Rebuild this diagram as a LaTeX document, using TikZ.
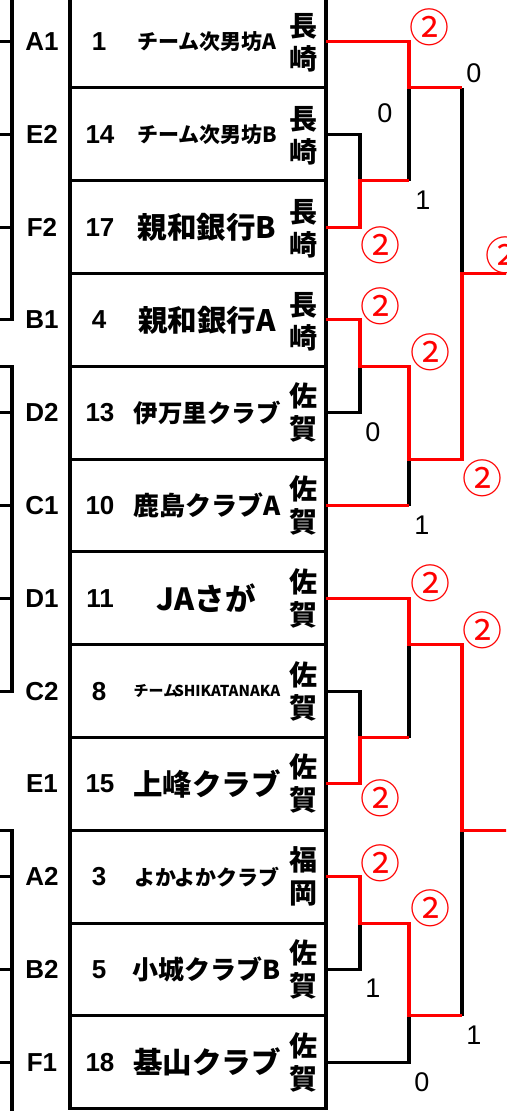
\documentclass[tikz,border=0pt]{standalone}
\usepackage{fontspec}
\setmainfont{Liberation Sans}
\newfontfamily\jp{Noto Sans CJK JP}
\tikzset{
  rowbox/.style={draw, line width=3.1pt, minimum width=256pt, minimum height=92.8pt, inner sep=0pt, outer sep=0pt},
  lab/.style={inner sep=0pt, font=\fontsize{26}{26}\selectfont\bfseries},
  num/.style={inner sep=0pt, font=\fontsize{26}{26}\selectfont\bfseries},
  team/.style={inner sep=0pt, font=\jp\bfseries\fontsize{29.5}{29.5}\selectfont},
  pref/.style={inner sep=0pt, align=center, font=\jp\bfseries\fontsize{28}{33}\selectfont},
  score/.style={inner sep=0pt, font=\fontsize{27}{27}\selectfont},
  win/.style={inner sep=0pt, text=red, font=\jp\fontsize{40}{40}\selectfont},
  lose/.style={draw=black, line width=3.1pt},
  adv/.style={draw=red, line width=3.1pt},
  edge/.style={draw=black, line width=3.1pt}
}
\begin{document}
\begin{tikzpicture}[x=1pt,y=-1pt]
\useasboundingbox (0,0) rectangle (506,1111);
\clip (0,0) rectangle (506,1111);
\fill[white] (0,0) rectangle (506,1111);

% rows
\node[rowbox] (row0) at (198,41.5) {};
\node[rowbox] (row1) at (198,134.3) {};
\node[rowbox] (row2) at (198,227.1) {};
\node[rowbox] (row3) at (198,319.9) {};
\node[rowbox] (row4) at (198,412.7) {};
\node[rowbox] (row5) at (198,505.5) {};
\node[rowbox] (row6) at (198,598.3) {};
\node[rowbox] (row7) at (198,691.1) {};
\node[rowbox] (row8) at (198,783.9) {};
\node[rowbox] (row9) at (198,876.7) {};
\node[rowbox] (row10) at (198,969.5) {};
\node[rowbox] (row11) at (198,1062.3) {};

% group labels
\node[lab] (l0) at (42,41.5) {A1};
\node[lab] (l1) at (42,134.3) {E2};
\node[lab] (l2) at (42,227.1) {F2};
\node[lab] (l3) at (42,319.9) {B1};
\node[lab] (l4) at (42,412.7) {D2};
\node[lab] (l5) at (42,505.5) {C1};
\node[lab] (l6) at (42,598.3) {D1};
\node[lab] (l7) at (42,691.1) {C2};
\node[lab] (l8) at (42,783.9) {E1};
\node[lab] (l9) at (42,876.7) {A2};
\node[lab] (l10) at (42,969.5) {B2};
\node[lab] (l11) at (42,1062.3) {F1};

% numbers
\node[num] (n0) at (99,41.5) {1};
\node[num] (n1) at (100,134.3) {14};
\node[num] (n2) at (100,227.1) {17};
\node[num] (n3) at (99,319.9) {4};
\node[num] (n4) at (100,412.7) {13};
\node[num] (n5) at (100,505.5) {10};
\node[num] (n6) at (100,598.3) {11};
\node[num] (n7) at (99,691.1) {8};
\node[num] (n8) at (100,783.9) {15};
\node[num] (n9) at (99,876.7) {3};
\node[num] (n10) at (99,969.5) {5};
\node[num] (n11) at (100,1062.3) {18};

% team names
\node[team, font=\jp\bfseries\fontsize{21}{21}\selectfont] (t0) at (207,41.5) {チーム次男坊A};
\node[team, font=\jp\bfseries\fontsize{21}{21}\selectfont] (t1) at (207,134.3) {チーム次男坊B};
\node[team] (t2) at (207,227.1) {親和銀行B};
\node[team] (t3) at (207,319.9) {親和銀行A};
\node[team, font=\jp\bfseries\fontsize{24.5}{24.5}\selectfont] (t4) at (207,412.7) {伊万里クラブ};
\node[team, font=\jp\bfseries\fontsize{26}{26}\selectfont] (t5) at (207,505.5) {鹿島クラブA};
\node[team, font=\jp\bfseries\fontsize{30.5}{30.5}\selectfont] (t6) at (206,598.3) {JAさが};
\node[team, font=\jp\bfseries\fontsize{15}{15}\selectfont] (t7) at (207,691.1) {チーム\kern-4pt SHIKATANAKA};
\node[team] (t8) at (207,783.9) {上峰クラブ};
\node[team, font=\jp\bfseries\fontsize{21}{21}\selectfont] (t9) at (207,876.7) {よかよかクラブ};
\node[team, font=\jp\bfseries\fontsize{26}{26}\selectfont] (t10) at (207,969.5) {小城クラブB};
\node[team] (t11) at (207,1062.3) {基山クラブ};

% prefectures
\node[pref] (p0) at (303,43) {長\\崎};
\node[pref] (p1) at (303,135.8) {長\\崎};
\node[pref] (p2) at (303,228.6) {長\\崎};
\node[pref] (p3) at (303,321.4) {長\\崎};
\node[pref] (p4) at (303,412.7) {佐\\賀};
\node[pref] (p5) at (303,505.5) {佐\\賀};
\node[pref] (p6) at (303,598.3) {佐\\賀};
\node[pref] (p7) at (303,691.1) {佐\\賀};
\node[pref] (p8) at (303,783.9) {佐\\賀};
\node[pref] (p9) at (303,876.7) {福\\岡};
\node[pref] (p10) at (303,969.5) {佐\\賀};
\node[pref] (p11) at (303,1062.3) {佐\\賀};

% bracket junctions
\coordinate (q1) at (360,180.7);
\coordinate (s1) at (409,87.9);
\coordinate (q2) at (360,366.3);
\coordinate (s2) at (409,459.1);
\coordinate (f1) at (462,273.5);
\coordinate (q3) at (360,737.5);
\coordinate (s3) at (409,644.7);
\coordinate (q4) at (360,923.1);
\coordinate (s4) at (409,1015.9);
\coordinate (f2) at (462,830.3);
\coordinate (e1) at (510,273.5);
\coordinate (e2) at (510,830.3);

% losing lines (black)
\path[lose] (s1) -- (s1 |- q1);
\path[lose] (f1 |- s1) -- (f1);
\path[lose] (row1.east) -| (q1);
\path[lose] (row4.east) -| (q2);
\path[lose] (s2) -- (s2 |- row5.east);
\path[lose] (s3) -- (s3 |- q3);
\path[lose] (row7.east) -| (q3);
\path[lose] (row10.east) -| (q4);
\path[lose] (row11.east) -| (s4);
\path[lose] (f2 |- s4) -- (f2);

% advancing lines (red)
\path[adv] (row0.east) -| (s1) -- (f1 |- s1);
\path[adv] (row2.east) -| (q1) -- (s1 |- q1);
\path[adv] (row3.east) -| (q2) -- (s2 |- q2) -- (s2) -- (f1 |- s2) -- (f1) -- (e1);
\path[adv] (row5.east) -- (s2 |- row5.east);
\path[adv] (row6.east) -| (s3) -- (f2 |- s3) -- (f2) -- (e2);
\path[adv] (row8.east) -| (q3) -- (s3 |- q3);
\path[adv] (row9.east) -| (q4) -- (s4 |- q4) -- (s4) -- (f2 |- s4);

% left partial bracket
\coordinate (ga) at (12,-5);
\coordinate (gb) at (12,319.9);
\coordinate (gc) at (12,366.3);
\coordinate (gd) at (12,691.1);
\coordinate (ge) at (12,830.3);
\coordinate (gf) at (12,1115);
\path[edge] (ga) -- (gb) -- (-2,319.9);
\path[edge] (-2,366.3) -- (gc) -- (gd) -- (-2,691.1);
\path[edge] (-2,830.3) -- (ge) -- (gf);
\path[edge] (-2,41.5) -- (12,41.5);
\path[edge] (-2,134.3) -- (12,134.3);
\path[edge] (-2,227.1) -- (12,227.1);
\path[edge] (-2,412.7) -- (12,412.7);
\path[edge] (-2,505.5) -- (12,505.5);
\path[edge] (-2,598.3) -- (12,598.3);
\path[edge] (-2,876.7) -- (12,876.7);
\path[edge] (-2,969.5) -- (12,969.5);
\path[edge] (-2,1062.3) -- (12,1062.3);

% scores
\node[win] (w1) at (429,27) {②};
\node[score] (c1) at (385,113) {0};
\node[score] (c2) at (423,200) {1};
\node[win] (w2) at (380,245) {②};
\node[score] (c3) at (474,73) {0};
\node[win] (w3) at (505,255) {②};
\node[win] (w4) at (380,306) {②};
\node[win] (w5) at (430,352) {②};
\node[score] (c4) at (373,432) {0};
\node[win] (w6) at (482,478) {②};
\node[score] (c5) at (422,525) {1};
\node[win] (w7) at (430,583) {②};
\node[win] (w8) at (482,630) {②};
\node[win] (w9) at (380,798) {②};
\node[win] (w10) at (380,863) {②};
\node[win] (w11) at (430,908) {②};
\node[score] (c6) at (373,988) {1};
\node[score] (c7) at (474,1035) {1};
\node[score] (c8) at (422,1082) {0};
\end{tikzpicture}
\end{document}
